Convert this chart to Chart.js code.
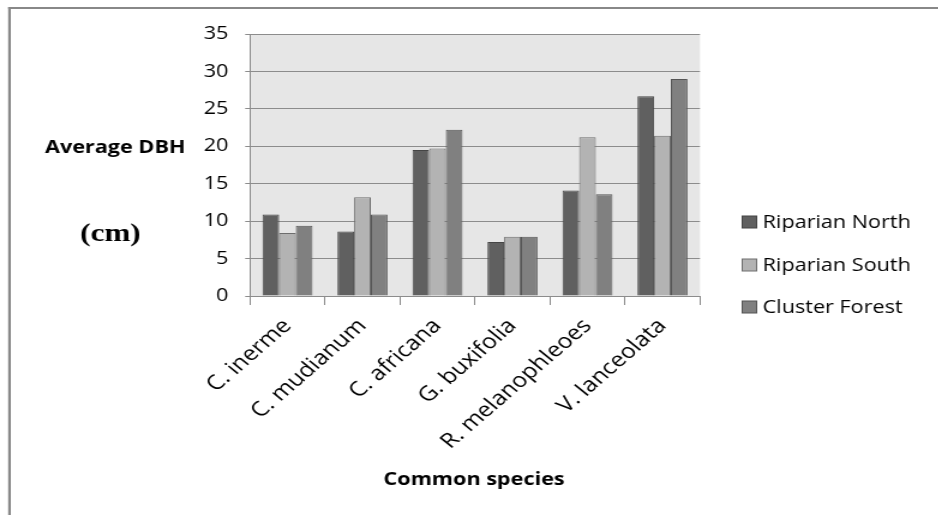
<!DOCTYPE html>
<html>
<head>
<meta charset="utf-8">
<script src="https://cdn.jsdelivr.net/npm/chart.js@4"></script>
<style>
  html, body { margin: 0; padding: 0; background: #fff; overflow: hidden; }
  /* chart is laid out narrower and widened horizontally */
  #wrap { position: absolute; left: 0; top: 0; width: 782px; height: 515px;
          transform: scaleX(1.2); transform-origin: 0 0; }
</style>
</head>
<body>
<div id="wrap"><canvas id="c"></canvas></div>
<script>
// Average DBH (cm) of common species in three forest zones
const species = ['C. inerme', 'C. mudianum', 'C. africana', 'G. buxifolia', 'R. melanophleoes', 'V. lanceolata'];
const riparianNorth = [10.9, 8.6, 19.5, 7.2, 14.1, 26.7];
const riparianSouth = [8.4, 13.2, 19.7, 7.9, 21.2, 21.4];
const clusterForest = [9.4, 10.9, 22.2, 7.9, 13.6, 29.0];
const seriesNames = ['Riparian North', 'Riparian South', 'Cluster Forest'];
const yTicks = [0, 5, 10, 15, 20, 25, 30, 35];

const FONT = '"Open Sans", sans-serif';
const GRID = '#8c8c8c';

const decor = {
  id: 'decor',
  beforeDraw(chart) {
    const { ctx, chartArea: a } = chart;
    ctx.save();
    ctx.fillStyle = '#e6e6e6';
    ctx.fillRect(a.left, a.top, a.right - a.left, a.bottom - a.top);
    ctx.restore();
  },
  afterDraw(chart) {
    const ctx = chart.ctx;
    ctx.save();
    // frame lines
    ctx.fillStyle = '#888';
    ctx.fillRect(6.8, 7, 800, 2);
    ctx.fillRect(6.8, 7, 2.2, 520);

    // axis titles
    ctx.fillStyle = '#000';
    ctx.textAlign = 'center';
    ctx.textBaseline = 'middle';
    ctx.font = 'bold 18px ' + FONT;
    ctx.fillText('Average DBH', 96, 148);
    ctx.fillText('Common species', 395, 480);
    ctx.font = 'bold 26px "Liberation Serif", serif';
    ctx.fillText('(cm)', 92, 234);

    // legend
    ctx.textAlign = 'left';
    ctx.font = '18px ' + FONT;
    const rows = [222, 265, 307];
    chart.data.datasets.forEach((ds, i) => {
      const y = rows[i];
      ctx.fillStyle = ds.backgroundColor;
      ctx.fillRect(618.5, y - 6, 12, 12);
      ctx.strokeStyle = ds.borderColor;
      ctx.lineWidth = 1;
      ctx.strokeRect(618.5, y - 6, 12, 12);
      ctx.fillStyle = '#000';
      ctx.fillText(ds.label, 635.5, y + 1);
    });
    ctx.restore();
  }
};

new Chart(document.getElementById('c'), {
  type: 'bar',
  data: {
    labels: species,
    datasets: [
      { label: seriesNames[0], data: riparianNorth, backgroundColor: '#606060', borderColor: '#454545' },
      { label: seriesNames[1], data: riparianSouth, backgroundColor: '#b3b3b3', borderColor: '#6e6e6e' },
      { label: seriesNames[2], data: clusterForest, backgroundColor: '#808080', borderColor: '#555555' }
    ].map(d => Object.assign(d, { borderWidth: 1, categoryPercentage: 0.667, barPercentage: 1.0 }))
  },
  options: {
    responsive: true,
    maintainAspectRatio: false,
    animation: false,
    layout: { padding: { left: 0, top: 34, right: 198.7, bottom: 0 } },
    plugins: { legend: { display: false }, tooltip: { enabled: false } },
    scales: {
      x: {
        afterFit(s) { s.height = 219; },
        grid: { display: true, drawOnChartArea: false, offset: true, color: GRID, tickLength: 9 },
        border: { color: GRID, width: 1 },
        ticks: { color: '#000', font: { family: FONT, size: 20.5 }, minRotation: 46, maxRotation: 46, padding: 9, autoSkip: false }
      },
      y: {
        min: 0, max: 35,
        afterFit(s) { s.width = 208.3; },
        afterBuildTicks(s) { s.ticks = yTicks.map(v => ({ value: v })); },
        grid: { color: GRID, tickLength: 4 },
        border: { color: GRID, width: 1 },
        ticks: { color: '#000', font: { family: FONT, size: 18 }, padding: 14 }
      }
    }
  },
  plugins: [decor]
});
</script>
</body>
</html>
